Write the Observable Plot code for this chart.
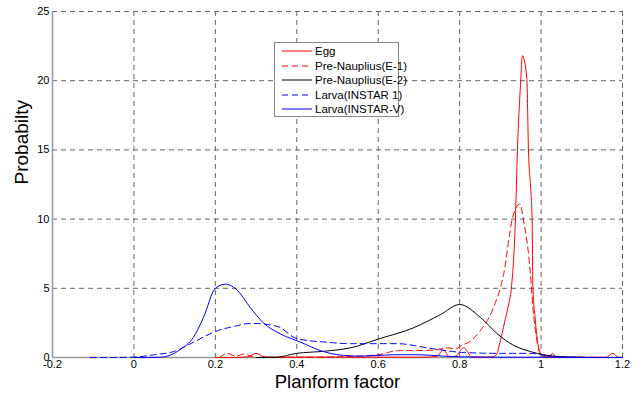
<!DOCTYPE html>
<html>
<head>
<meta charset="utf-8">
<script src="https://cdn.jsdelivr.net/npm/d3@7"></script>
<script src="https://cdn.jsdelivr.net/npm/@observablehq/plot@0.6"></script>
<style>
  html, body { margin: 0; padding: 0; background: #fff; }
  #wrap { position: relative; width: 637px; height: 396px; font-family: "Liberation Sans", Arial, sans-serif; }
  #legend { position: absolute; left: 274px; top: 42px; width: 125px; height: 75px; background: #fff; border: 1px solid #888; box-sizing: border-box; }
  #legend .row { position: absolute; left: 0; height: 14px; display: flex; align-items: center; font-size: 11.5px; color: #000; white-space: nowrap; }
  #legend svg { margin-left: 7px; margin-right: 3px; flex: none; }
</style>
</head>
<body>
<div id="wrap"></div>
<script>
// ---- data ----
const seriesNames = ["Egg", "Pre-Nauplius(E-1)", "Pre-Nauplius(E-2)", "Larva(INSTAR 1)", "Larva(INSTAR-V)"];
const seriesColors = ["#ff0000", "#ff0000", "#000000", "#0000ff", "#0000ff"];
const seriesDashed = [false, true, false, true, false];

const eggX = [0.20,0.25,0.28,0.30,0.32,0.35,0.45,0.55,0.65,0.72,0.745,0.76,0.775,0.79,0.81,0.83,0.86,0.88,0.89,0.90,0.91,0.92,0.927,0.937,0.942,0.95,0.954,0.965,0.969,0.975,0.978,0.98,0.985,0.99,0.997,1.01,1.02,1.028,1.036,1.05,1.1,1.16,1.176,1.19,1.2];
const eggY = [0,0,0.05,0.3,0.05,0.02,0.02,0.02,0.02,0.02,0.1,0.55,0.05,0.1,0.7,0.05,0.02,0.05,0.2,1.2,2.5,3.8,5,10,15,20,21.8,20.2,15,12,10,5,3,1.5,0.3,0.05,0.05,0.3,0.05,0.02,0.02,0.02,0.3,0.02,0.02];

const e1X = [0.21,0.23,0.25,0.27,0.30,0.40,0.50,0.60,0.65,0.70,0.74,0.77,0.79,0.80,0.827,0.851,0.883,0.908,0.93,0.948,0.957,0.974,0.98,0.99,1.0,1.02,1.05];
const e1Y = [0,0.3,0.1,0.25,0,0.02,0.05,0.2,0.5,0.5,0.55,0.7,0.6,0.8,1.2,1.95,3.6,6,10.1,11.1,9.9,6,3.6,1.2,0.3,0.05,0];

const e2X = [0.30,0.35,0.40,0.466,0.532,0.60,0.687,0.753,0.80,0.851,0.893,0.933,0.974,1.006,1.05,1.1];
const e2Y = [0,0.02,0.3,0.45,0.7,1.33,2.15,3.1,3.83,2.9,1.7,0.87,0.43,0.2,0.05,0.02];

const i1X = [-0.107,-0.05,0,0.05,0.1,0.146,0.2,0.254,0.28,0.294,0.353,0.40,0.475,0.532,0.598,0.647,0.72,0.753,0.81,0.9,0.974,1.02,1.1,1.2];
const i1Y = [0,0,0.03,0.2,0.45,1.1,1.88,2.3,2.45,2.46,2.24,1.37,1.1,1.0,1.0,1.0,0.7,0.55,0.36,0.3,0.3,0.1,0.02,0];

const ivX = [0,0.065,0.114,0.146,0.171,0.2,0.225,0.254,0.286,0.318,0.36,0.41,0.458,0.515,0.56,0.638,0.7,0.76,0.8,0.9,1.0,1.1,1.2];
const ivY = [0,0.02,0.58,1.45,2.9,5.0,5.3,4.85,3.6,2.5,1.7,1.1,0.5,0.15,0.1,0.2,0.2,0.1,0.05,0.02,0.02,0,0];

const xTicks = [-0.2, 0, 0.2, 0.4, 0.6, 0.8, 1, 1.2];
const yTicks = [0, 5, 10, 15, 20, 25];
const xLabel = "Planform factor";
const yLabel = "Probabilty";

// ---- build table ----
const seriesXY = [[eggX, eggY], [e1X, e1Y], [e2X, e2Y], [i1X, i1Y], [ivX, ivY]];
const rows = [];
seriesXY.forEach(([xs, ys], i) => xs.forEach((x, j) => rows.push({series: seriesNames[i], x, y: ys[j]})));

const gridStyle = {stroke: "#666", strokeOpacity: 1, strokeWidth: 1, strokeDasharray: "5,4"};

const lineMarks = seriesNames.map((name, i) =>
  Plot.line(rows.filter(d => d.series === name), {
    x: "x", y: "y", stroke: seriesColors[i], strokeWidth: 1,
    strokeDasharray: seriesDashed[i] ? "6,4" : null, curve: "monotone-x"
  })
);

const chart = Plot.plot({
  width: 637, height: 396,
  marginLeft: 52, marginRight: 15, marginTop: 11, marginBottom: 39,
  style: {fontFamily: "'Liberation Sans', Arial, sans-serif", background: "#fff"},
  x: {domain: [-0.2, 1.2]},
  y: {domain: [0, 25]},
  marks: [
    Plot.gridX(xTicks, gridStyle),
    Plot.gridY(yTicks, gridStyle),
    Plot.ruleX([-0.2], {stroke: "#999", strokeWidth: 1.5}),
    Plot.ruleY([0], {stroke: "#999", strokeWidth: 1.5}),
    ...lineMarks,
    Plot.axisX(xTicks, {tickSize: 0, tickPadding: 2.5, fontSize: 11, fill: "#000", label: null, tickFormat: d => String(d)}),
    Plot.axisY(yTicks, {tickSize: 0, tickPadding: 3, fontSize: 11, fill: "#000", label: null}),
    Plot.text([xLabel], {frameAnchor: "bottom", dy: 30, fontSize: 18.5, fill: "#000"}),
    Plot.text([yLabel], {frameAnchor: "left", dx: -31, rotate: -90, fontSize: 19, fill: "#000"})
  ]
});

const wrap = document.getElementById("wrap");
wrap.appendChild(chart);

// legend
const legend = document.createElement("div");
legend.id = "legend";
seriesNames.forEach((name, i) => {
  const row = document.createElement("div");
  row.className = "row";
  row.style.top = (1 + i * 14.5) + "px";
  row.innerHTML = `<svg width="30" height="6"><line x1="0" x2="30" y1="3" y2="3" stroke="${seriesColors[i]}" stroke-width="1" ${seriesDashed[i] ? 'stroke-dasharray="6,4"' : ''}/></svg><span>${name}</span>`;
  legend.appendChild(row);
});
wrap.appendChild(legend);
</script>
</body>
</html>
